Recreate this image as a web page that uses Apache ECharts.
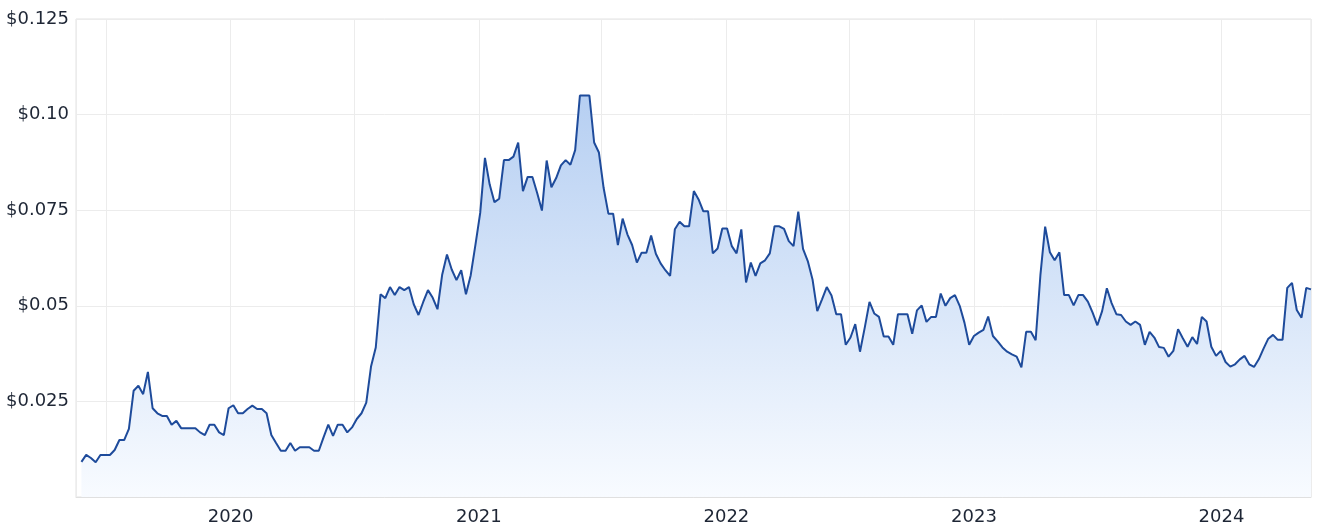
<!DOCTYPE html>
<html>
<head>
<meta charset="utf-8">
<script src="https://cdn.jsdelivr.net/npm/echarts@6/dist/echarts.min.js"></script>
<style>html,body{margin:0;padding:0;background:#fff}#c{width:1320px;height:530px}</style>
</head>
<body>
<div id="c"></div>
<script>
const dates = [
'2019-05-26','2019-06-02','2019-06-09','2019-06-16','2019-06-23','2019-06-30','2019-07-07','2019-07-14','2019-07-21','2019-07-28',
'2019-08-04','2019-08-11','2019-08-18','2019-08-25','2019-09-01','2019-09-08','2019-09-15','2019-09-22','2019-09-29','2019-10-06',
'2019-10-13','2019-10-20','2019-10-27','2019-11-03','2019-11-10','2019-11-17','2019-11-24','2019-12-01','2019-12-08','2019-12-15',
'2019-12-22','2019-12-29','2020-01-05','2020-01-12','2020-01-19','2020-01-26','2020-02-02','2020-02-09','2020-02-16','2020-02-23',
'2020-03-01','2020-03-08','2020-03-15','2020-03-22','2020-03-29','2020-04-05','2020-04-12','2020-04-19','2020-04-26','2020-05-03',
'2020-05-10','2020-05-17','2020-05-24','2020-05-31','2020-06-07','2020-06-14','2020-06-21','2020-06-28','2020-07-05','2020-07-12',
'2020-07-19','2020-07-26','2020-08-02','2020-08-09','2020-08-16','2020-08-23','2020-08-30','2020-09-06','2020-09-13','2020-09-20',
'2020-09-27','2020-10-04','2020-10-11','2020-10-18','2020-10-25','2020-11-01','2020-11-08','2020-11-15','2020-11-22','2020-11-29',
'2020-12-06','2020-12-13','2020-12-20','2020-12-27','2021-01-03','2021-01-10','2021-01-17','2021-01-24','2021-01-31','2021-02-07',
'2021-02-14','2021-02-21','2021-02-28','2021-03-07','2021-03-14','2021-03-21','2021-03-28','2021-04-04','2021-04-11','2021-04-18',
'2021-04-25','2021-05-02','2021-05-09','2021-05-16','2021-05-23','2021-05-30','2021-06-06','2021-06-13','2021-06-20','2021-06-27',
'2021-07-04','2021-07-11','2021-07-18','2021-07-25','2021-08-01','2021-08-08','2021-08-15','2021-08-22','2021-08-29','2021-09-05',
'2021-09-12','2021-09-19','2021-09-26','2021-10-03','2021-10-10','2021-10-17','2021-10-24','2021-10-31','2021-11-07','2021-11-14',
'2021-11-21','2021-11-28','2021-12-05','2021-12-12','2021-12-19','2021-12-26','2022-01-02','2022-01-09','2022-01-16','2022-01-23',
'2022-01-30','2022-02-06','2022-02-13','2022-02-20','2022-02-27','2022-03-06','2022-03-13','2022-03-20','2022-03-27','2022-04-03',
'2022-04-10','2022-04-17','2022-04-24','2022-05-01','2022-05-08','2022-05-15','2022-05-22','2022-05-29','2022-06-05','2022-06-12',
'2022-06-19','2022-06-26','2022-07-03','2022-07-10','2022-07-17','2022-07-24','2022-07-31','2022-08-07','2022-08-14','2022-08-21',
'2022-08-28','2022-09-04','2022-09-11','2022-09-18','2022-09-25','2022-10-02','2022-10-09','2022-10-16','2022-10-23','2022-10-30',
'2022-11-06','2022-11-13','2022-11-20','2022-11-27','2022-12-04','2022-12-11','2022-12-18','2022-12-25','2023-01-01','2023-01-08',
'2023-01-15','2023-01-22','2023-01-29','2023-02-05','2023-02-12','2023-02-19','2023-02-26','2023-03-05','2023-03-12','2023-03-19',
'2023-03-26','2023-04-02','2023-04-09','2023-04-16','2023-04-23','2023-04-30','2023-05-07','2023-05-14','2023-05-21','2023-05-28',
'2023-06-04','2023-06-11','2023-06-18','2023-06-25','2023-07-02','2023-07-09','2023-07-16','2023-07-23','2023-07-30','2023-08-06',
'2023-08-13','2023-08-20','2023-08-27','2023-09-03','2023-09-10','2023-09-17','2023-09-24','2023-10-01','2023-10-08','2023-10-15',
'2023-10-22','2023-10-29','2023-11-05','2023-11-12','2023-11-19','2023-11-26','2023-12-03','2023-12-10','2023-12-17','2023-12-24',
'2023-12-31','2024-01-07','2024-01-14','2024-01-21','2024-01-28','2024-02-04','2024-02-11','2024-02-18','2024-02-25','2024-03-03',
'2024-03-10','2024-03-17','2024-03-24','2024-03-31','2024-04-07','2024-04-14','2024-04-21','2024-04-28','2024-05-05','2024-05-12'
];
const prices = [
0.0092,0.011,0.0102,0.0091,0.011,0.011,0.011,0.0123,0.0149,0.0149,
0.0178,0.0278,0.0291,0.0269,0.0327,0.0232,0.0219,0.0212,0.0212,0.0189,
0.0199,0.018,0.018,0.018,0.018,0.0169,0.0162,0.0189,0.0189,0.0169,
0.0162,0.0232,0.024,0.0219,0.0219,0.023,0.0239,0.023,0.023,0.0219,
0.0162,0.0141,0.0121,0.0121,0.0141,0.0121,0.013,0.013,0.013,0.0121,
0.0121,0.0156,0.0189,0.016,0.0189,0.0189,0.0169,0.0182,0.0204,0.0219,
0.0247,0.0341,0.0391,0.053,0.052,0.0549,0.0528,0.0549,0.0541,0.0549,
0.0504,0.0476,0.051,0.0541,0.0521,0.0491,0.0582,0.0634,0.0595,0.0567,
0.0593,0.053,0.058,0.066,0.0743,0.0887,0.0817,0.0771,0.078,0.0881,
0.0881,0.089,0.0927,0.08,0.0837,0.0837,0.0795,0.0749,0.088,0.081,
0.0834,0.0867,0.0881,0.0869,0.0907,0.105,0.105,0.105,0.0927,0.0901,
0.0808,0.0741,0.0741,0.0659,0.0728,0.0687,0.0659,0.0613,0.0639,0.0639,
0.0684,0.0636,0.0611,0.0593,0.0578,0.07,0.072,0.0708,0.0708,0.08,
0.0778,0.0747,0.0747,0.0637,0.065,0.0702,0.0702,0.0656,0.0637,0.07,
0.0561,0.0613,0.0578,0.0611,0.0619,0.0637,0.0708,0.0708,0.0701,0.0669,
0.0656,0.0746,0.0649,0.0617,0.0569,0.0486,0.0517,0.0549,0.0527,0.0478,
0.0478,0.0398,0.0417,0.0452,0.038,0.0443,0.051,0.048,0.0471,0.042,
0.042,0.0398,0.0478,0.0478,0.0478,0.0427,0.0488,0.0501,0.0458,0.0471,
0.0471,0.0532,0.05,0.052,0.0528,0.05,0.0456,0.0398,0.0421,0.043,
0.0437,0.0472,0.0421,0.0407,0.0391,0.038,0.0373,0.0367,0.0339,0.0432,
0.0432,0.041,0.058,0.0707,0.064,0.0619,0.064,0.0528,0.0528,0.0501,
0.0528,0.0528,0.0511,0.0482,0.0449,0.0486,0.0546,0.0507,0.0478,0.0476,
0.0459,0.045,0.0459,0.045,0.0398,0.0432,0.0417,0.0392,0.039,0.0367,
0.0382,0.0439,0.0415,0.0393,0.0418,0.04,0.0471,0.0459,0.0393,0.0369,
0.0382,0.0353,0.0341,0.0347,0.036,0.0369,0.0347,0.034,0.036,0.0388,
0.0414,0.0424,0.0411,0.0411,0.0547,0.056,0.0489,0.0469,0.0547,0.0543
];
const yTicks = [0, 0.025, 0.05, 0.075, 0.1, 0.125];
const xRange = ['2019-05-18', '2024-05-12'];

const seriesData = dates.map((d, i) => [d, prices[i]]);
const chart = echarts.init(document.getElementById('c'), null, {renderer: 'canvas'});
const labelFont = '"DejaVu Sans", sans-serif';
chart.setOption({
  animation: false,
  backgroundColor: '#ffffff',
  grid: {left: 76, right: 9, top: 19, bottom: 33, show: true, borderColor: '#e3e3e3', borderWidth: 1},
  xAxis: {
    type: 'time',
    min: xRange[0],
    max: xRange[1],
    splitNumber: 10,
    axisLine: {show: true, lineStyle: {color: '#e0e0e0'}},
    axisTick: {show: false},
    splitLine: {show: true, lineStyle: {color: '#ececec', width: 1}},
    axisLabel: {
      color: '#1e2635', fontSize: 18, fontFamily: labelFont, margin: 11,
      showMinLabel: false, showMaxLabel: false,
      formatter: function (v) { const d = new Date(v); return (d.getMonth() === 0 && d.getDate() === 1) ? String(d.getFullYear()) : ''; }
    }
  },
  yAxis: {
    type: 'value',
    min: yTicks[0],
    max: yTicks[yTicks.length - 1],
    interval: 0.025,
    axisLine: {show: false},
    axisTick: {show: false},
    splitLine: {show: true, lineStyle: {color: '#ececec', width: 1}},
    axisLabel: {
      color: '#1e2635', fontSize: 18, fontFamily: labelFont, margin: 7,
      formatter: function (v) { if (v === 0) return ''; let s = v.toFixed(3); if (s.endsWith('0')) s = s.slice(0, -1); return '$' + s; }
    }
  },
  series: [{
    type: 'line',
    data: seriesData,
    showSymbol: false,
    symbol: 'none',
    lineStyle: {color: '#1e4b9b', width: 2},
    areaStyle: {
      opacity: 1,
      color: new echarts.graphic.LinearGradient(0, 0, 0, 1, [
        {offset: 0, color: '#b6cff2'},
        {offset: 1, color: '#f8fbff'}
      ])
    }
  }]
});
</script>
</body>
</html>
